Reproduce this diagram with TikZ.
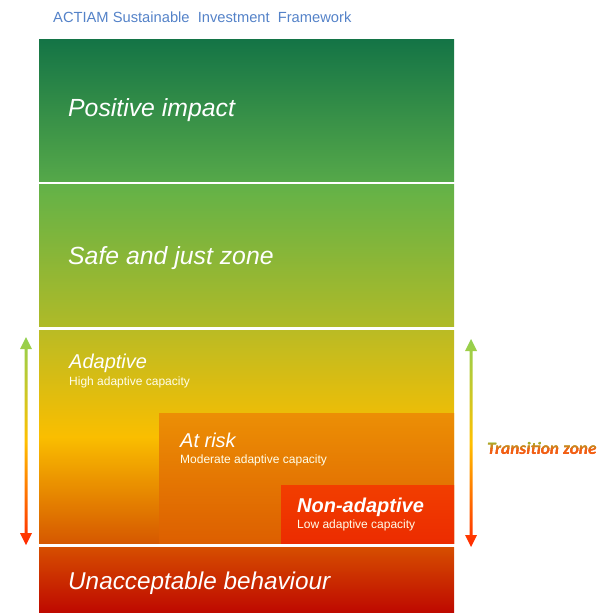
\documentclass[tikz,border=0pt]{standalone}
\usepackage{fontspec}
\setmainfont{Liberation Sans}
\newfontfamily\calfont{Carlito}
\usetikzlibrary{calc}
\definecolor{titleblue}{RGB}{84,130,200}
\definecolor{gA}{RGB}{20,116,70}
\definecolor{gB}{RGB}{85,168,73}
\definecolor{gC}{RGB}{98,178,72}
\definecolor{gD}{RGB}{175,186,40}
\definecolor{yA}{RGB}{186,187,36}
\definecolor{yB}{RGB}{250,190,0}
\definecolor{yC}{RGB}{214,88,0}
\definecolor{oA}{RGB}{236,143,5}
\definecolor{oB}{RGB}{221,95,0}
\definecolor{rA}{RGB}{242,62,0}
\definecolor{rB}{RGB}{236,44,0}
\definecolor{uA}{RGB}{214,78,0}
\definecolor{uB}{RGB}{190,8,0}
\definecolor{arG}{RGB}{146,208,80}
\definecolor{arY}{RGB}{255,192,0}
\definecolor{arR}{RGB}{255,40,0}
\definecolor{tzG}{RGB}{150,192,50}
\definecolor{tzO}{RGB}{242,95,20}
\tikzset{
  band/.style={anchor=north west, inner sep=0pt, outer sep=0pt, draw=none},
  bigtxt/.style={anchor=base west, inner sep=0pt, text=white, font=\fontsize{24.8}{28}\selectfont\itshape},
  midtxt/.style={anchor=base west, inner sep=0pt, text=white, font=\fontsize{20}{24}\selectfont\itshape},
  smalltxt/.style={anchor=base west, inner sep=0pt, text=white!92!yellow, font=\fontsize{12}{14}\selectfont},
  tzfont/.style={inner sep=0pt, outer sep=0pt, font=\fontsize{17.4}{20}\selectfont\calfont\bfseries\itshape},
}
\begin{document}
\begin{tikzpicture}[x=1pt,y=-1pt]
\useasboundingbox (0,0) rectangle (608,613);
% title
\node[anchor=base west, inner sep=0pt, text=titleblue, font=\fontsize{14.7}{18}\selectfont] (title) at (53,23) {ACTIAM Sustainable\ \ Investment\ \ Framework};
% bands
\node[band, minimum width=415pt, minimum height=142pt, top color=gA, bottom color=gB] (b1) at (39,39) {};
\node[band, minimum width=415pt, minimum height=142pt, top color=gC, bottom color=gD] (b2) at (39,184) {};
\node[band, minimum width=415pt, minimum height=213pt, top color=yA, bottom color=yC, middle color=yB] (b3) at (39,330) {};
\node[band, minimum width=295pt, minimum height=130pt, top color=oA, bottom color=oB] (b4) at (159,413) {};
\node[band, minimum width=173pt, minimum height=58pt, top color=rA, bottom color=rB] (b5) at (281,485) {};
\node[band, minimum width=415pt, minimum height=66pt, top color=uA, bottom color=uB] (b6) at (39,547) {};
% texts
\node[bigtxt] (t1) at (68,116) {Positive impact};
\node[bigtxt] (t2) at (68,264) {Safe and just zone};
\node[midtxt] (t3) at (69,368) {Adaptive};
\node[smalltxt] (s3) at (69,385) {High adaptive capacity};
\node[midtxt] (t4) at (180,447) {At risk};
\node[smalltxt] (s4) at (180,463) {Moderate adaptive capacity};
\node[midtxt, font=\fontsize{20}{24}\selectfont\bfseries\itshape] (t5) at (297,512) {Non-adaptive};
\node[smalltxt] (s5) at (297,528) {Low adaptive capacity};
\node[bigtxt, font=\fontsize{24.3}{28}\selectfont\itshape] (t6) at (68,589) {Unacceptable behaviour};
% arrows
\shade[top color=arG, bottom color=arR, middle color=arY]
  (26,337) -- (32,349) -- (27.5,349) -- (27.5,533) -- (32,533) -- (26,545)
  -- (20,533) -- (24.5,533) -- (24.5,349) -- (20,349) -- cycle;
\shade[top color=arG, bottom color=arR, middle color=arY]
  (471,339) -- (477,351) -- (472.5,351) -- (472.5,535) -- (477,535) -- (471,547)
  -- (465,535) -- (469.5,535) -- (469.5,351) -- (465,351) -- cycle;
% transition zone (vertical colour gradient by strips)
\node[tzfont, anchor=west] (tz) at (487,448) {\phantom{Transition zone}};
\foreach \i in {0,...,17}{
  \pgfmathsetmacro{\ta}{\i/18}
  \pgfmathsetmacro{\tb}{(\i+1)/18}
  \pgfmathsetmacro{\pc}{min(100,100*(\i+0.5)/12)}
  \begin{scope}
    \clip ($(tz.north west)!\ta!(tz.south west)+(-3,0)$) rectangle ($(tz.north east)!\tb!(tz.south east)+(3,0)$);
    \node[tzfont, anchor=center, text=tzO!\pc!tzG] (tzc\i) at (tz.center) {Transition zone};
  \end{scope}
}
\end{tikzpicture}
\end{document}
